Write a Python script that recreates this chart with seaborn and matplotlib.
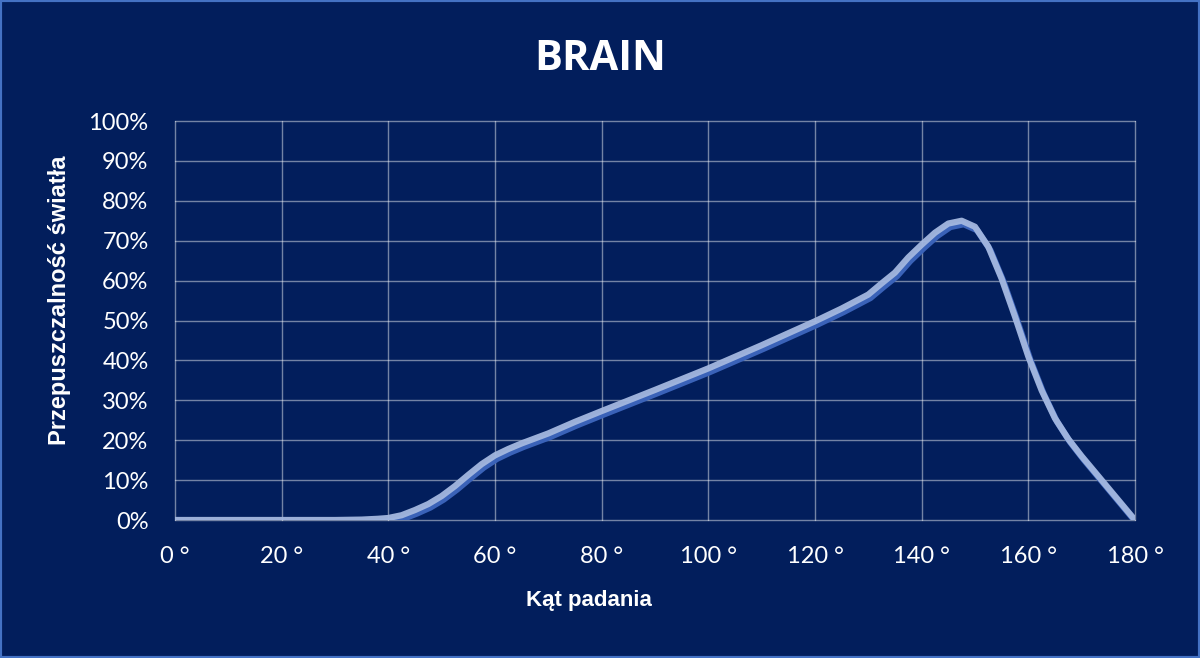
import numpy as np
import pandas as pd
import matplotlib
matplotlib.use("Agg")
import matplotlib.pyplot as plt
import matplotlib.patheffects as pe
from matplotlib.patches import Rectangle
from matplotlib.ticker import FuncFormatter
import seaborn as sns

# Data
angles = [0, 10, 20, 30, 35, 38, 40, 42.5, 45, 47.5, 50, 52.5, 55, 57.5, 60, 62.5,
          65, 70, 75, 80, 90, 100, 110, 120, 125, 130, 132.5, 135, 137.5, 140,
          142.5, 145, 147.5, 150, 152.5, 155, 157.5, 160, 162.5, 165, 167.5, 170,
          172.5, 175, 177.5, 180]
transmission = [0.0, 0.0, 0.0, 0.0, 0.1, 0.3, 0.5, 1.2, 2.5, 4.0, 6.0, 8.5, 11.3,
                14.0, 16.2, 17.8, 19.2, 21.7, 24.6, 27.3, 32.6, 38.0, 43.8, 49.8,
                53.0, 56.5, 59.3, 62.0, 65.8, 69.0, 72.0, 74.3, 75.0, 73.5, 68.5,
                60.5, 51.0, 41.0, 32.5, 25.5, 20.3, 16.0, 12.0, 8.0, 4.0, 0.0]
x_ticks = [0, 20, 40, 60, 80, 100, 120, 140, 160, 180]
y_ticks = [0, 10, 20, 30, 40, 50, 60, 70, 80, 90, 100]

title = "BRAIN"
x_label = "Kąt padania"
y_label = "Przepuszczalność światła"

BG = "#021e5c"
df = pd.DataFrame({"angle": angles, "transmission": transmission})

sns.set_theme(style="white")
plt.rcParams["font.family"] = ["Lato", "DejaVu Sans"]

fig = plt.figure(figsize=(12, 6.58), dpi=100, facecolor=BG)
ax = fig.add_axes([0.1458, 0.2097, 0.8, 0.6064])
ax.set_facecolor(BG)

sns.lineplot(data=df, x="angle", y="transmission", ax=ax, color="#a4b8e0",
             linewidth=4.5, alpha=0.95, zorder=3)
line = ax.lines[0]
line.set_path_effects([
    pe.SimpleLineShadow(offset=(1.5, -2.5), shadow_color="#3a62b8", alpha=1.0),
    pe.Normal(),
])
line.set_solid_capstyle("round")
line.set_solid_joinstyle("round")

ax.set_xlim(0, 180)
ax.set_ylim(0, 100)
ax.set_xticks(x_ticks)
ax.set_yticks(y_ticks)
ax.xaxis.set_major_formatter(FuncFormatter(lambda v, p: f"{v:.0f} °"))
ax.yaxis.set_major_formatter(FuncFormatter(lambda v, p: f"{v:.0f}%"))
ax.tick_params(axis="both", colors="white", labelsize=17, length=0)
ax.tick_params(axis="y", pad=19)
ax.tick_params(axis="x", pad=19)
ax.grid(True, color="white", alpha=0.45, linewidth=1)
for s in ax.spines.values():
    s.set_visible(False)
for t in ax.get_xgridlines() + ax.get_ygridlines():
    t.set_clip_on(False)

ax.set_xlabel(x_label, color="white", fontsize=16, fontweight="bold",
              family=["Liberation Sans", "DejaVu Sans"], va="center")
ax.xaxis.set_label_coords(0.431, -0.2005)
ax.set_ylabel(y_label, color="white", fontsize=17, fontweight="bold",
              family=["Liberation Sans", "DejaVu Sans"], va="center")
ax.yaxis.set_label_coords(-0.1198, 0.551)

fig.text(0.5, 0.91, title, color="white", fontsize=30, fontweight="bold",
         family=["Open Sans", "DejaVu Sans"], ha="center", va="center")

fig.patches.append(Rectangle((0, 0), 1, 1, transform=fig.transFigure, fill=False,
                             edgecolor="#4472c4", linewidth=3, zorder=10))

fig.savefig("out.png", dpi=100, facecolor=BG)
